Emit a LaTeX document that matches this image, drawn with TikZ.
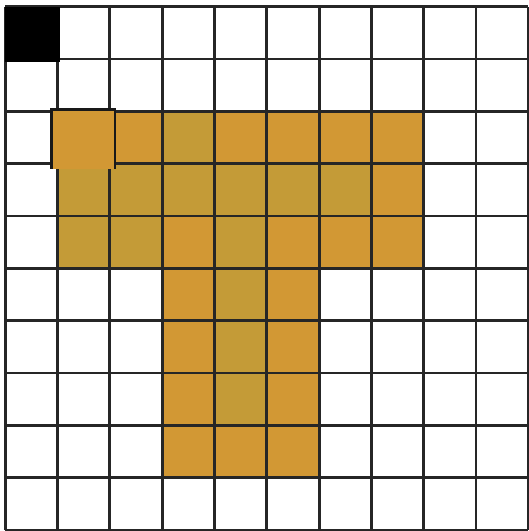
\documentclass[tikz,border=0pt]{standalone}
\usepackage{tikz}
\definecolor{tanorange}{HTML}{D29834}
\definecolor{tanolive}{HTML}{C49B37}

\begin{document}
\begin{tikzpicture}[gridline/.style={line width=1.5pt,black!85}]
  \useasboundingbox (-0.1,-0.02) rectangle (10.01,10.13);
  % T shape
  \fill[tanorange] (1,5) rectangle (8,8);
  \fill[tanorange] (3,1) rectangle (6,5);
  % darker cells
  \foreach \c/\r in {3/7,1/6,2/6,3/6,4/6,5/6,6/6,1/5,2/5,4/5,4/4,4/3,4/2}
    \fill[tanolive] (\c,\r) rectangle ++(1,1);
  % grid
  \draw[gridline] (0,0) grid (10,10);
  % shifted cell on top
  \fill[tanorange] (0.88,6.9) rectangle (2.1,8.03);
  \draw[line width=1.5pt,black!90] (0.88,6.9)--(0.88,8.03)--(2.1,8.03)--(2.1,6.9);
  % start cell
  \fill[black] (0,8.95) rectangle (1.05,10);
\end{tikzpicture}
\end{document}
